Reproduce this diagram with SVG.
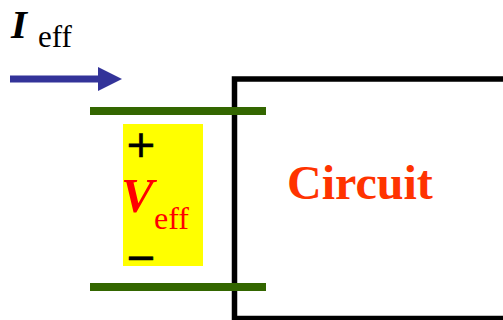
<svg xmlns="http://www.w3.org/2000/svg" width="503" height="320" viewBox="0 0 503 320">
<style>
.lead{stroke:#336600;stroke-width:8;fill:none}
.serif{font-family:"Liberation Serif","Times New Roman",serif}
.sym{font-family:"DejaVu Sans",sans-serif;font-size:38px;fill:#000;stroke:#000;stroke-width:0.6}
</style>
<defs>
<marker id="ah" markerUnits="userSpaceOnUse" markerWidth="24" markerHeight="24" refX="0" refY="12" orient="auto">
<path d="M0,0 L24,12 L0,24 z" fill="#333399"/>
</marker>
</defs>
<rect width="503" height="320" fill="#fff"/>
<g id="circuit">
<rect x="234.5" y="79" width="300" height="239.5" fill="none" stroke="#000" stroke-width="5.5"/>
<text x="287" y="199" class="serif" font-weight="bold" font-size="48" fill="#ff3300">Circuit</text>
</g>
<g id="veff">
<rect x="123" y="124" width="80" height="142" fill="#ffff00"/>
<text x="141" y="157" class="sym" text-anchor="middle">+</text>
<text x="141" y="269.5" class="sym" text-anchor="middle">−</text>
<text x="121" y="212" class="serif" font-weight="bold" font-style="italic" font-size="49" fill="#ff0000">V</text>
<text x="154" y="229" class="serif" font-size="32" fill="#ff0000">eff</text>
</g>
<g id="ieff">
<text x="11" y="38" class="serif" font-weight="bold" font-style="italic" font-size="41" fill="#000">I</text>
<text x="38" y="47" class="serif" font-size="31" fill="#000">eff</text>
</g>
<g id="connectors">
<line x1="10" y1="79" x2="98" y2="79" stroke="#333399" stroke-width="7" marker-end="url(#ah)"/>
<line class="lead" x1="90" y1="111" x2="266" y2="111"/>
<line class="lead" x1="90" y1="287" x2="266" y2="287"/>
</g>
</svg>
